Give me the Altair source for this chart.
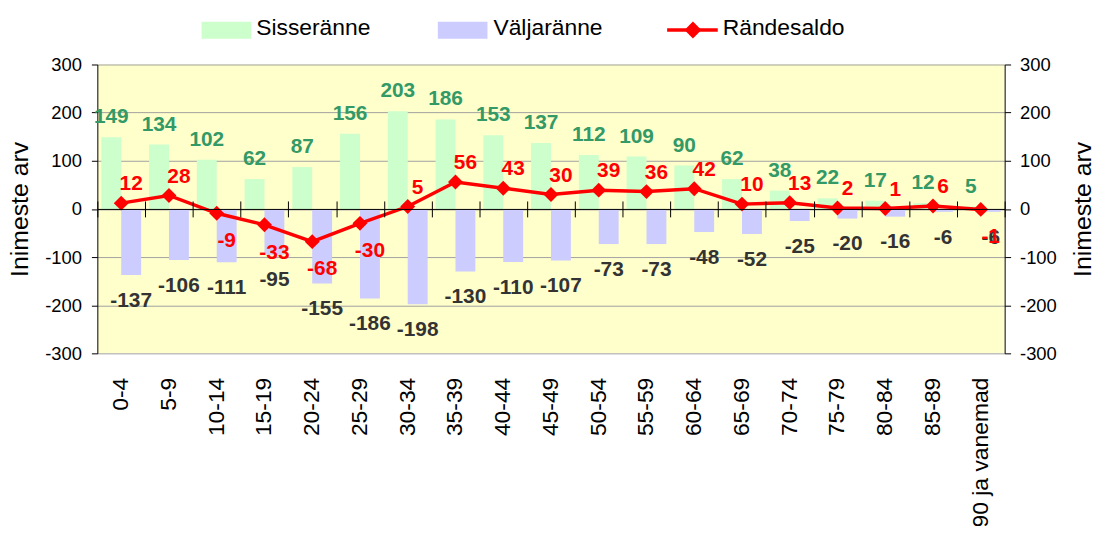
import altair as alt
import pandas as pd

FONT = "Liberation Sans"

categories = ["0-4", "5-9", "10-14", "15-19", "20-24", "25-29", "30-34", "35-39",
              "40-44", "45-49", "50-54", "55-59", "60-64", "65-69", "70-74", "75-79",
              "80-84", "85-89", "90 ja vanemad"]
sisseranne = [149, 134, 102, 62, 87, 156, 203, 186, 153, 137, 112, 109, 90, 62, 38, 22, 17, 12, 5]
valjaranne = [-137, -106, -111, -95, -155, -186, -198, -130, -110, -107, -73, -73, -48, -52, -25, -20, -16, -6, -6]
randesaldo = [12, 28, -9, -33, -68, -30, 5, 56, 43, 30, 39, 36, 42, 10, 13, 2, 1, 6, -1]
series_names = ["Sisseränne", "Väljaränne", "Rändesaldo"]
y_ticks = [-300, -200, -100, 0, 100, 200, 300]
axis_title = "Inimeste arv"

n = len(categories)
bars = pd.DataFrame({
    "vanus": categories * 2,
    "series": [series_names[0]] * n + [series_names[1]] * n,
    "value": sisseranne + valjaranne,
})
bars["label"] = bars["value"].astype(str)
saldo = pd.DataFrame({"vanus": categories, "value": randesaldo})
saldo["label"] = saldo["value"].astype(str)

x_scale = alt.Scale(domain=categories, paddingInner=0, paddingOuter=0)
y_scale = alt.Scale(domain=[-300, 300], nice=False, zero=False)
xoff_scale = alt.Scale(domain=series_names[:2], paddingInner=0, paddingOuter=0.2)

axis_labels = alt.Axis(orient="bottom", title=None, domain=False, ticks=False, tickSize=0,
                       grid=False, labelAngle=270, labelAlign="right", labelBaseline="middle",
                       labelPadding=24, labelFontSize=23, labelFont=FONT, labelColor="black",
                       labelOverlap=False, labelLimit=400)
axis_zero_down = alt.Axis(orient="bottom", offset=-145.5, labels=False, title=None, grid=False,
                          domain=True, domainColor="black", domainWidth=1, ticks=True,
                          tickColor="black", tickSize=8, tickBand="extent", zindex=1)
axis_zero_up = alt.Axis(orient="top", offset=-145.5, labels=False, title=None, grid=False,
                        domain=False, ticks=True, tickColor="black", tickSize=8,
                        tickBand="extent", zindex=1)
axis_left = alt.Axis(orient="left", values=y_ticks, grid=True, gridColor="#A0A0A0",
                     domainColor="black", tickColor="black", tickSize=6,
                     labelFontSize=18.5, labelFont=FONT, labelColor="black", labelPadding=10,
                     labelExpr="datum.value + ''", title=axis_title, titleFont=FONT,
                     titleFontSize=25, titleFontWeight="normal", titleColor="black",
                     titleAngle=270, titleBaseline="alphabetic", titleX=-70, titleY=145.5)
axis_right = alt.Axis(orient="right", values=y_ticks, grid=False,
                      domainColor="black", tickColor="black", tickSize=6,
                      labelFontSize=18.5, labelFont=FONT, labelColor="black", labelPadding=9,
                      labelExpr="datum.value + ''", title=axis_title, titleFont=FONT,
                      titleFontSize=25, titleFontWeight="normal", titleColor="black",
                      titleAngle=270, titleBaseline="alphabetic", titleX=86, titleY=145.5)

bar = alt.Chart(bars).mark_bar().encode(
    x=alt.X("vanus:N", scale=x_scale, axis=axis_labels),
    xOffset=alt.XOffset("series:N", scale=xoff_scale),
    y=alt.Y("value:Q", scale=y_scale, axis=axis_left),
    y2=alt.datum(0),
    color=alt.Color("series:N", scale=alt.Scale(domain=series_names[:2],
                                                range=["#CCFFCC", "#CCCCFF"]), legend=None),
)

line = alt.Chart(saldo).mark_line(color="#FF0000", strokeWidth=3.5).encode(
    x=alt.X("vanus:N", scale=x_scale, axis=axis_zero_down),
    y=alt.Y("value:Q", scale=y_scale, axis=axis_right),
)

points = alt.Chart(saldo).mark_point(shape="diamond", filled=True, size=225,
                                     color="#FF0000", opacity=1).encode(
    x=alt.X("vanus:N", scale=x_scale, axis=axis_zero_up),
    y=alt.Y("value:Q", scale=y_scale, axis=None),
)

def bar_text(series, dy, color):
    return alt.Chart(bars).transform_filter(alt.datum.series == series).mark_text(
        dy=dy, baseline="alphabetic", align="center", fontSize=21, fontWeight="bold",
        font=FONT, color=color).encode(
        x=alt.X("vanus:N", scale=x_scale, axis=None),
        xOffset=alt.XOffset("series:N", scale=xoff_scale),
        y=alt.Y("value:Q", scale=y_scale, axis=None),
        text="label:N",
    )

green_text = bar_text(series_names[0], -14, "#339966")
blue_text = bar_text(series_names[1], 32, "#333333")

def saldo_text(filt, dy):
    return alt.Chart(saldo).transform_filter(filt).mark_text(
        dx=10, dy=dy, baseline="alphabetic", align="center", fontSize=21, fontWeight="bold",
        font=FONT, color="#FF0000").encode(
        x=alt.X("vanus:N", scale=x_scale, axis=None),
        y=alt.Y("value:Q", scale=y_scale, axis=None),
        text="label:N",
    )

red_pos = saldo_text(alt.datum.value >= 0, -13)
red_neg = saldo_text(alt.datum.value < 0, 34)

# legend
leg1 = pd.DataFrame({"name": [series_names[0]]})
leg2 = pd.DataFrame({"name": [series_names[1]]})
leg3 = pd.DataFrame({"name": [series_names[2]]})

def leg_text(df, x):
    return alt.Chart(df).mark_text(align="left", baseline="alphabetic", fontSize=23,
                                   font=FONT, color="black").encode(
        x=alt.value(x), y=alt.value(-29.7), text="name:N")

sw1 = alt.Chart(leg1).mark_rect(color="#CCFFCC").encode(
    x=alt.value(105), x2=alt.value(155), y=alt.value(-43), y2=alt.value(-26))
sw2 = alt.Chart(leg2).mark_rect(color="#CCCCFF").encode(
    x=alt.value(343), x2=alt.value(393), y=alt.value(-43), y2=alt.value(-26))
sw3_line = alt.Chart(leg3).mark_rule(color="#FF0000", strokeWidth=3.5).encode(
    x=alt.value(574), x2=alt.value(625), y=alt.value(-34.7))
sw3_pt = alt.Chart(leg3).mark_point(shape="diamond", filled=True, size=289,
                                    color="#FF0000", opacity=1).encode(
    x=alt.value(600), y=alt.value(-34.7))

chart = alt.layer(
    bar, line, points, green_text, blue_text, red_pos, red_neg,
    sw1, leg_text(leg1, 160), sw2, leg_text(leg2, 399), sw3_line, sw3_pt, leg_text(leg3, 630),
).resolve_axis(x="independent", y="independent").properties(
    width=914, height=291,
    autosize=alt.AutoSizeParams(type="none"),
    padding={"left": 90, "top": 55, "right": 88, "bottom": 172},
).configure_view(fill="#FFFFCC", strokeWidth=0)

chart.save("out.html", embed_options={"renderer": "svg", "actions": False})
